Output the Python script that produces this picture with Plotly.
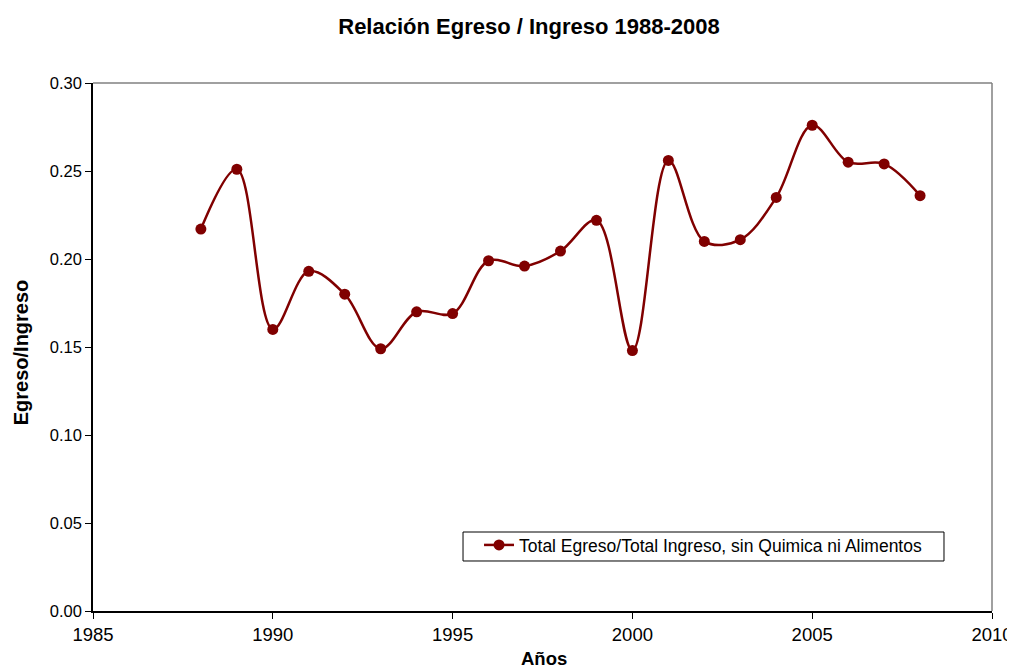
import plotly.graph_objects as go

years = list(range(1988, 2009))
ratio = [0.217, 0.251, 0.160, 0.193, 0.180, 0.149, 0.170, 0.169, 0.199, 0.196,
         0.2045, 0.222, 0.148, 0.256, 0.210, 0.211, 0.235, 0.276, 0.255, 0.254, 0.236]
series_name = "Total Egreso/Total Ingreso, sin Quimica ni Alimentos"
x_ticks = [1985, 1990, 1995, 2000, 2005, 2010]
y_ticks = [0.00, 0.05, 0.10, 0.15, 0.20, 0.25, 0.30]

FONT = "Liberation Sans, Arial, sans-serif"
fig = go.Figure()
fig.add_trace(go.Scatter(
    x=years, y=ratio, name=series_name, mode="lines+markers",
    line=dict(color="#800000", width=2.5, shape="spline", smoothing=1.0),
    marker=dict(color="#800000", size=11),
))
# top/right gray border
fig.add_shape(type="line", xref="paper", yref="paper", x0=0, x1=1, y0=1, y1=1,
              line=dict(color="#808080", width=1.5))
fig.add_shape(type="line", xref="paper", yref="paper", x0=1, x1=1, y0=0, y1=1,
              line=dict(color="#808080", width=1.5))
# legend frame
fig.add_shape(type="rect", xref="paper", yref="paper", x0=0.4116, x1=0.9466,
              y0=0.0947, y1=0.1496, line=dict(color="black", width=1),
              fillcolor="white", layer="above")
fig.add_annotation(text="<b>Egreso/Ingreso</b>", xref="paper", yref="paper",
                   x=-0.0801, y=0.49, xanchor="center", yanchor="middle",
                   textangle=-90, showarrow=False, font=dict(size=20, family=FONT))
fig.add_annotation(text="<b>Años</b>", xref="paper", yref="paper",
                   x=0.502, y=-0.0909, xanchor="center", yanchor="middle",
                   showarrow=False, font=dict(size=18.5, family=FONT))
fig.update_layout(
    width=1007, height=661,
    margin=dict(l=85, r=23, t=75, b=58),
    paper_bgcolor="white", plot_bgcolor="white",
    font=dict(family=FONT, size=16, color="black"),
    title=dict(text="<b>Relación Egreso / Ingreso 1988-2008</b>", x=0.5174, xanchor="center",
               y=0.9728, yanchor="middle", font=dict(size=22, family=FONT)),
    showlegend=True,
    legend=dict(x=0.4294, y=0.159, xanchor="left", yanchor="top",
                bgcolor="rgba(0,0,0,0)", borderwidth=0,
                font=dict(size=17.5, family=FONT)),
    xaxis=dict(range=[1985, 2010], tickvals=x_ticks, showgrid=False, zeroline=False,
               showline=True, linecolor="black", linewidth=1.5, ticks="outside",
               ticklen=6, tickcolor="black", tickfont=dict(size=18.5), automargin=False),
    yaxis=dict(range=[0, 0.30], tickvals=y_ticks, tickformat=".2f", showgrid=False,
               zeroline=False, showline=True, linecolor="black", linewidth=1.5,
               ticks="outside", ticklen=6, tickcolor="black", tickfont=dict(size=16.5),
               automargin=False),
)
fig.write_html("out.html")
